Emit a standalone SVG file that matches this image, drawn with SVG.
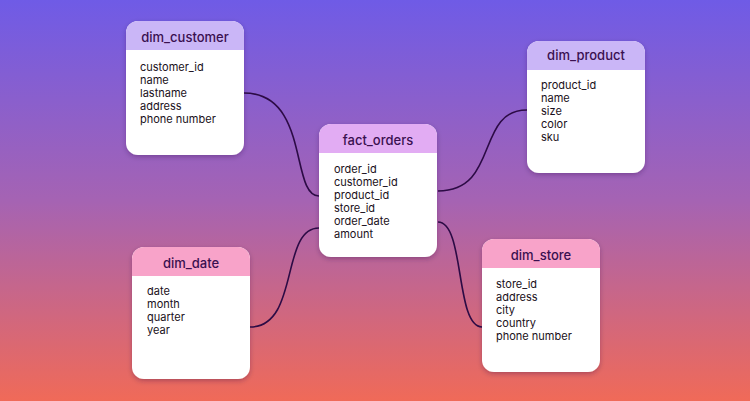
<svg xmlns="http://www.w3.org/2000/svg" width="750" height="401" viewBox="0 0 750 401">
<defs>
<linearGradient id="bg" x1="0" y1="0" x2="0" y2="1">
<stop offset="0" stop-color="#6f5be6"/>
<stop offset="0.5" stop-color="#a563b3"/>
<stop offset="1" stop-color="#f06a58"/>
</linearGradient>
<filter id="sh" x="-20%" y="-20%" width="140%" height="140%">
<feDropShadow dx="0" dy="2" stdDeviation="2.5" flood-color="#2a0a40" flood-opacity="0.3"/>
</filter>
<path id="hdr" d="M0 29 V12 A12 12 0 0 1 12 0 H106 A12 12 0 0 1 118 12 V29 Z"/>
</defs>
<style>
.card{fill:#ffffff;filter:url(#sh)}
.lav{fill:#cab6f7}
.mag{fill:#e2acf3}
.pink{fill:#f8a3c9}
.title{font-family:Inter,"Noto Sans",sans-serif;font-size:13px;font-weight:500;fill:#3a1050;text-anchor:middle}
.item{font-family:Inter,"Noto Sans",sans-serif;font-size:11px;fill:#1a1020}
.conn{fill:none;stroke:#2c0b45;stroke-width:1.6}
</style>
<rect width="750" height="401" fill="url(#bg)"/>
<g id="connectors">
<path class="conn" d="M244 93 C310 93 290 196 319 196"/>
<path class="conn" d="M250 327 C300 327 280 228 319 228"/>
<path class="conn" d="M438 191 C500 191 475 110 527 110"/>
<path class="conn" d="M438 222 C465 222 455 327 482 327"/>
</g>
<g id="dim_customer" transform="translate(126 21)">
<rect class="card" width="118" height="134" rx="12"/>
<use href="#hdr" class="lav"/>
<text class="title" x="59" y="21">dim_customer</text>
<text class="item" x="14" y="50">customer_id</text>
<text class="item" x="14" y="63">name</text>
<text class="item" x="14" y="76">lastname</text>
<text class="item" x="14" y="89">address</text>
<text class="item" x="14" y="102">phone number</text>
</g>
<g id="fact_orders" transform="translate(319 124)">
<rect class="card" width="118" height="133" rx="12"/>
<use href="#hdr" class="mag"/>
<text class="title" x="59" y="21">fact_orders</text>
<text class="item" x="15" y="49">order_id</text>
<text class="item" x="15" y="62">customer_id</text>
<text class="item" x="15" y="75">product_id</text>
<text class="item" x="15" y="88">store_id</text>
<text class="item" x="15" y="101">order_date</text>
<text class="item" x="15" y="114">amount</text>
</g>
<g id="dim_product" transform="translate(527 41)">
<rect class="card" width="118" height="132" rx="12"/>
<use href="#hdr" class="lav"/>
<text class="title" x="59" y="19">dim_product</text>
<text class="item" x="14" y="48">product_id</text>
<text class="item" x="14" y="61">name</text>
<text class="item" x="14" y="74">size</text>
<text class="item" x="14" y="87">color</text>
<text class="item" x="14" y="100">sku</text>
</g>
<g id="dim_date" transform="translate(132 247)">
<rect class="card" width="118" height="132" rx="12"/>
<use href="#hdr" class="pink"/>
<text class="title" x="59" y="21">dim_date</text>
<text class="item" x="15" y="48">date</text>
<text class="item" x="15" y="61">month</text>
<text class="item" x="15" y="74">quarter</text>
<text class="item" x="15" y="87">year</text>
</g>
<g id="dim_store" transform="translate(482 239)">
<rect class="card" width="118" height="133" rx="12"/>
<use href="#hdr" class="pink"/>
<text class="title" x="59" y="21">dim_store</text>
<text class="item" x="14" y="49">store_id</text>
<text class="item" x="14" y="62">address</text>
<text class="item" x="14" y="75">city</text>
<text class="item" x="14" y="88">country</text>
<text class="item" x="14" y="101">phone number</text>
</g>
</svg>
